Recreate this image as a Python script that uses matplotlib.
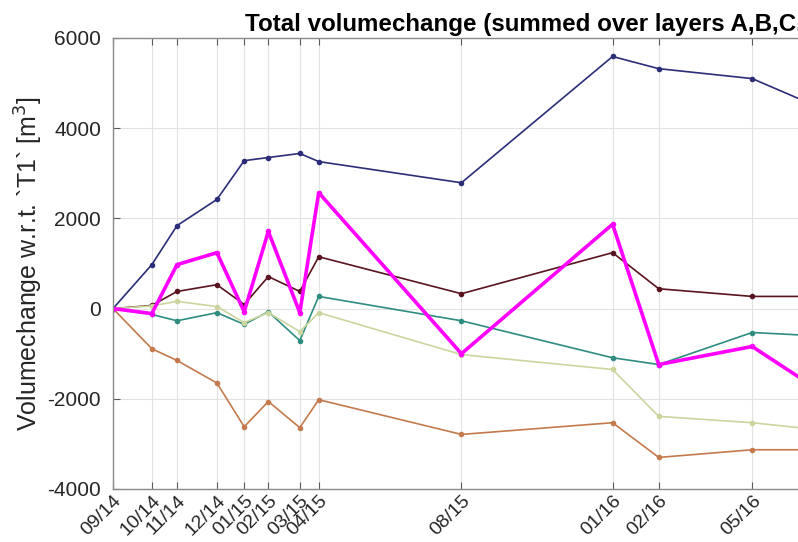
import numpy as np
import pandas as pd
import matplotlib
matplotlib.use("Agg")
import matplotlib.pyplot as plt

plt.rcParams['font.family'] = ['Liberation Sans', 'DejaVu Sans']
plt.rcParams['axes.unicode_minus'] = False

# survey dates (last one lies outside the visible crop)
dates = pd.to_datetime(["2014-09-22", "2014-10-29", "2014-11-22", "2014-12-30",
                        "2015-01-25", "2015-02-17", "2015-03-19", "2015-04-06",
                        "2015-08-20", "2016-01-11", "2016-02-24", "2016-05-23",
                        "2016-09-01"])
tick_labels = ["09/14", "10/14", "11/14", "12/14", "01/15", "02/15", "03/15",
               "04/15", "08/15", "01/16", "02/16", "05/16", "09/16"]

# volume change per series [m3]
vol_blue = [0, 975, 1840, 2420, 3280, 3350, 3440, 3260, 2790, 5590, 5320, 5100, 4090]
vol_maroon = [0, 70, 380, 530, 90, 710, 380, 1150, 330, 1240, 440, 270, 270]
vol_teal = [0, -130, -270, -90, -350, -70, -710, 270, -270, -1090, -1240, -530, -650]
vol_olive = [0, 60, 160, 45, -310, -90, -510, -90, -1020, -1350, -2390, -2530, -2780]
vol_orange = [0, -890, -1150, -1650, -2620, -2060, -2640, -2020, -2790, -2530, -3300, -3130, -3130]
vol_total = [0, -110, 975, 1240, -70, 1710, -90, 2570, -1000, 1870, -1240, -840, -2380]

fig = plt.figure(figsize=(7.98, 5.42), dpi=100)
# axes run past the right edge of the figure (cropped like the original)
ax = fig.add_axes([113 / 798, 53 / 542, 848 / 798, 451 / 542])

series = [(vol_blue, '#2b2d78', 1.2),
          (vol_maroon, '#5a1420', 1.2),
          (vol_teal, '#2f8c80', 1.2),
          (vol_olive, '#cbd69e', 1.2),
          (vol_orange, '#c47a4c', 1.2),
          (vol_total, '#ff00ff', 2.6)]
for vals, col, lw in series:
    ax.plot(dates, vals, '.-', color=col, lw=lw, markersize=6)

ax.set_xlim(pd.Timestamp("2014-09-22"), pd.Timestamp("2016-12-08"))
ax.set_ylim(-4000, 6000)
ax.set_yticks([-4000, -2000, 0, 2000, 4000, 6000])
ax.set_xticks(dates)
ax.set_xticklabels(tick_labels, rotation=45, ha='right', va='top',
                   rotation_mode='anchor')

ax.grid(True, color='#e2e2e2', lw=0.8)
ax.set_axisbelow(True)
ax.tick_params(direction='in', length=5, color='#5a5a5a',
               top=True, right=True, labelcolor='#262626')
ax.tick_params(axis='y', labelsize=15, pad=8.5)
ax.tick_params(axis='x', labelsize=14, pad=2)
for s in ax.spines.values():
    s.set_color('#8a8a8a')
    s.set_linewidth(1.0)

ax.set_ylabel("Volumechange w.r.t. `T1` [m$^3$]", fontsize=18, color='#262626',
              labelpad=2)
ax.set_title("Total volumechange (summed over layers A,B,C,D)", fontsize=17.4,
             fontweight='bold', pad=5)

fig.savefig("out.png", dpi=100)
